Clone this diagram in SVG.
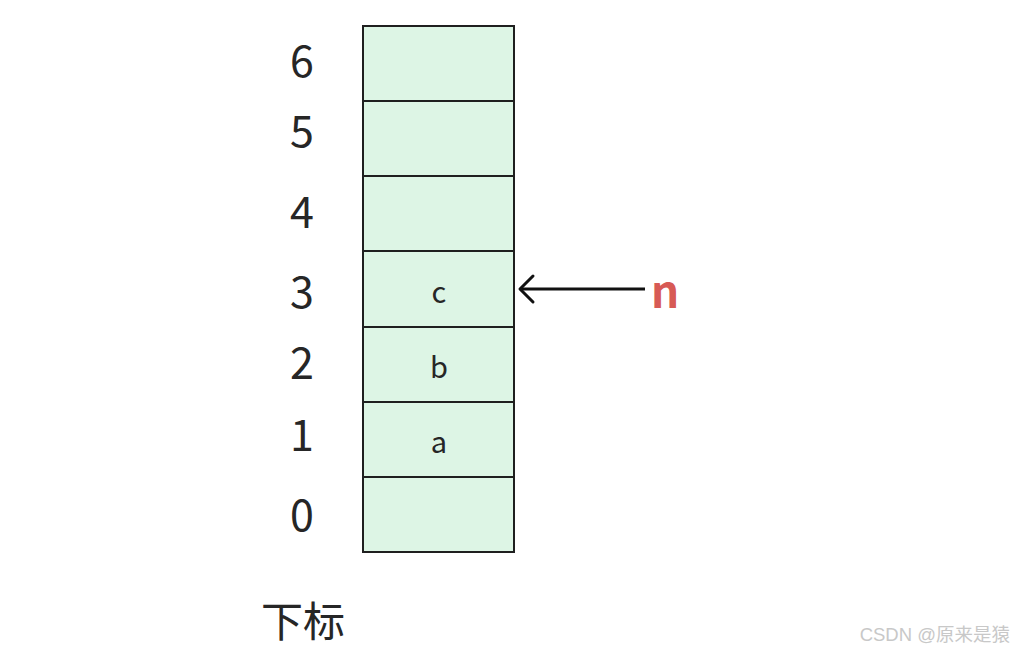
<svg xmlns="http://www.w3.org/2000/svg" width="1014" height="652" viewBox="0 0 1014 652">
<style>
.cell{fill:#ddf5e5;stroke:#1f1f1f;stroke-width:2}
.idx{font-family:"Noto Sans CJK SC","Noto Sans",sans-serif;font-size:43px;fill:#262626;text-anchor:middle}
.val{font-family:"Noto Sans CJK SC","Noto Sans",sans-serif;font-size:29px;fill:#262626;text-anchor:middle}
</style>
<rect width="1014" height="652" fill="#ffffff"/>
<g id="array">
<rect class="cell" x="363" y="26" width="151" height="75"/>
<rect class="cell" x="363" y="101" width="151" height="75"/>
<rect class="cell" x="363" y="176" width="151" height="75"/>
<rect class="cell" x="363" y="251" width="151" height="76"/>
<rect class="cell" x="363" y="327" width="151" height="75"/>
<rect class="cell" x="363" y="402" width="151" height="75"/>
<rect class="cell" x="363" y="477" width="151" height="75"/>
<text class="val" x="439" y="303">c</text>
<text class="val" x="439" y="378">b</text>
<text class="val" x="439" y="453">a</text>
</g>
<g id="indices">
<text class="idx" x="302" y="77">6</text>
<text class="idx" x="302" y="147">5</text>
<text class="idx" x="302" y="228">4</text>
<text class="idx" x="302" y="308">3</text>
<text class="idx" x="302" y="379">2</text>
<text class="idx" x="302" y="451">1</text>
<text class="idx" x="302" y="531">0</text>
</g>
<g id="label">
<text x="261" y="637" font-family="'Noto Sans CJK SC',sans-serif" font-size="42" fill="#262626">下标</text>
</g>
<g id="connectors">
<line x1="645" y1="289" x2="522" y2="289" stroke="#111" stroke-width="3"/>
<polyline points="533,276 520,289 533,302" fill="none" stroke="#111" stroke-width="3" stroke-linecap="round" stroke-linejoin="round"/>
</g>
<g id="n">
<text x="651" y="308" font-family="'Noto Sans CJK SC','Noto Sans',sans-serif" font-weight="bold" font-size="44" fill="#d75a55">n</text>
</g>
<text x="1010" y="641" text-anchor="end" font-family="'Liberation Sans','Noto Sans CJK SC',sans-serif" font-size="18.5" fill="#c8c8c8">CSDN @原来是猿</text>
</svg>
